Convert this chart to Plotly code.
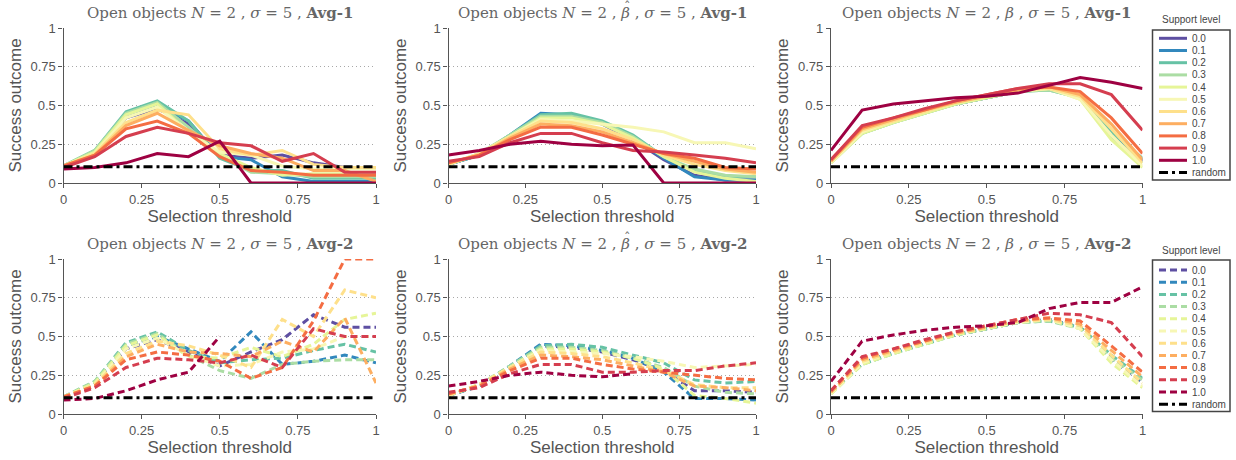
import plotly.graph_objects as go

# ---------------- data ----------------
x_vals = [0.0, 0.1, 0.2, 0.3, 0.4, 0.5, 0.6, 0.7, 0.8, 0.9, 1.0]
levels = ["0.0", "0.1", "0.2", "0.3", "0.4", "0.5", "0.6", "0.7", "0.8", "0.9", "1.0"]
random_level = 0.105
x_ticks = [0, 0.25, 0.5, 0.75, 1]
x_ticktext = ["0", "0.25", "0.5", "0.75", "1"]
y_ticks = [0, 0.25, 0.5, 0.75, 1]
y_ticktext = ["0", "0.25", "0.5", "0.75", "1"]

# Avg-1, plain
avg1_plain = [
    [0.11, 0.20, 0.42, 0.48, 0.38, 0.18, 0.16, 0.18, 0.13, 0.10, 0.10],
    [0.11, 0.20, 0.44, 0.50, 0.40, 0.17, 0.15, 0.04, 0.01, 0.01, 0.01],
    [0.11, 0.21, 0.46, 0.53, 0.40, 0.16, 0.08, 0.08, 0.03, 0.03, 0.03],
    [0.11, 0.21, 0.45, 0.52, 0.36, 0.18, 0.07, 0.06, 0.04, 0.04, 0.04],
    [0.11, 0.20, 0.44, 0.51, 0.33, 0.19, 0.10, 0.05, 0.06, 0.06, 0.06],
    [0.11, 0.19, 0.42, 0.49, 0.33, 0.20, 0.18, 0.11, 0.09, 0.09, 0.09],
    [0.11, 0.19, 0.39, 0.47, 0.44, 0.22, 0.18, 0.21, 0.12, 0.10, 0.10],
    [0.11, 0.18, 0.37, 0.45, 0.34, 0.24, 0.19, 0.16, 0.08, 0.08, 0.01],
    [0.11, 0.18, 0.35, 0.40, 0.32, 0.17, 0.08, 0.07, 0.05, 0.05, 0.05],
    [0.10, 0.17, 0.30, 0.36, 0.32, 0.26, 0.24, 0.14, 0.19, 0.07, 0.07],
    [0.09, 0.10, 0.13, 0.19, 0.17, 0.27, 0.00, 0.00, 0.00, 0.00, 0.00],
]
# Avg-1, beta-hat
avg1_hat = [
    [0.12, 0.18, 0.30, 0.44, 0.43, 0.38, 0.28, 0.15, 0.05, 0.02, 0.02],
    [0.12, 0.18, 0.31, 0.45, 0.44, 0.39, 0.29, 0.16, 0.04, 0.02, 0.02],
    [0.12, 0.18, 0.31, 0.44, 0.45, 0.40, 0.31, 0.17, 0.08, 0.04, 0.04],
    [0.12, 0.19, 0.31, 0.43, 0.43, 0.39, 0.30, 0.17, 0.09, 0.05, 0.04],
    [0.12, 0.19, 0.30, 0.42, 0.42, 0.38, 0.29, 0.17, 0.07, 0.03, 0.01],
    [0.12, 0.19, 0.30, 0.41, 0.40, 0.38, 0.36, 0.33, 0.26, 0.26, 0.22],
    [0.12, 0.19, 0.30, 0.40, 0.39, 0.35, 0.28, 0.18, 0.12, 0.08, 0.06],
    [0.13, 0.18, 0.29, 0.38, 0.37, 0.33, 0.26, 0.19, 0.14, 0.09, 0.07],
    [0.13, 0.18, 0.28, 0.36, 0.36, 0.31, 0.25, 0.19, 0.16, 0.10, 0.09],
    [0.14, 0.17, 0.26, 0.32, 0.32, 0.26, 0.21, 0.20, 0.18, 0.16, 0.13],
    [0.18, 0.21, 0.25, 0.27, 0.25, 0.24, 0.245, 0.00, 0.00, 0.00, 0.00],
]
# Avg-1, beta
avg1_beta = [
    [0.14, 0.33, 0.40, 0.46, 0.51, 0.55, 0.59, 0.61, 0.56, 0.32, 0.14],
    [0.14, 0.33, 0.40, 0.46, 0.51, 0.55, 0.59, 0.61, 0.56, 0.31, 0.15],
    [0.14, 0.32, 0.39, 0.45, 0.51, 0.55, 0.59, 0.60, 0.55, 0.33, 0.16],
    [0.13, 0.32, 0.39, 0.45, 0.51, 0.55, 0.59, 0.60, 0.55, 0.30, 0.13],
    [0.13, 0.32, 0.39, 0.45, 0.51, 0.55, 0.59, 0.61, 0.54, 0.28, 0.10],
    [0.13, 0.33, 0.40, 0.46, 0.52, 0.56, 0.59, 0.61, 0.54, 0.31, 0.11],
    [0.14, 0.34, 0.40, 0.46, 0.52, 0.56, 0.60, 0.61, 0.56, 0.35, 0.13],
    [0.14, 0.35, 0.41, 0.47, 0.52, 0.56, 0.60, 0.62, 0.57, 0.38, 0.15],
    [0.15, 0.36, 0.42, 0.47, 0.53, 0.57, 0.61, 0.62, 0.59, 0.42, 0.19],
    [0.15, 0.37, 0.42, 0.48, 0.53, 0.57, 0.61, 0.64, 0.64, 0.57, 0.34],
    [0.21, 0.47, 0.51, 0.53, 0.55, 0.56, 0.58, 0.63, 0.68, 0.65, 0.61],
]
# Avg-2, plain
avg2_plain = [
    [0.11, 0.20, 0.42, 0.48, 0.40, 0.31, 0.40, 0.48, 0.64, 0.56, 0.56],
    [0.11, 0.20, 0.44, 0.50, 0.42, 0.34, 0.53, 0.32, 0.34, 0.38, 0.33],
    [0.11, 0.21, 0.46, 0.53, 0.41, 0.33, 0.35, 0.36, 0.41, 0.45, 0.40],
    [0.11, 0.21, 0.45, 0.52, 0.38, 0.28, 0.23, 0.32, 0.34, 0.35, 0.35],
    [0.11, 0.20, 0.44, 0.51, 0.37, 0.36, 0.43, 0.37, 0.45, 0.61, 0.65],
    [0.11, 0.19, 0.42, 0.49, 0.38, 0.31, 0.32, 0.40, 0.42, 0.50, 0.50],
    [0.11, 0.19, 0.39, 0.47, 0.44, 0.38, 0.30, 0.61, 0.50, 0.80, 0.75],
    [0.11, 0.18, 0.37, 0.45, 0.40, 0.39, 0.37, 0.47, 0.40, 0.62, 0.20],
    [0.11, 0.18, 0.35, 0.40, 0.38, 0.34, 0.23, 0.30, 0.60, 1.00, 1.00],
    [0.10, 0.17, 0.30, 0.36, 0.35, 0.33, 0.38, 0.30, 0.55, 0.50, 0.50],
    [0.09, 0.10, 0.15, 0.22, 0.27, 0.50, None, None, None, None, None],
]
# Avg-2, beta-hat
avg2_hat = [
    [0.12, 0.18, 0.30, 0.44, 0.43, 0.40, 0.35, 0.28, 0.15, 0.15, 0.14],
    [0.12, 0.18, 0.31, 0.45, 0.44, 0.41, 0.36, 0.27, 0.10, 0.10, 0.09],
    [0.12, 0.18, 0.31, 0.44, 0.45, 0.43, 0.38, 0.33, 0.22, 0.20, 0.21],
    [0.12, 0.19, 0.31, 0.43, 0.43, 0.41, 0.36, 0.30, 0.18, 0.14, 0.13],
    [0.12, 0.19, 0.30, 0.42, 0.42, 0.40, 0.36, 0.29, 0.12, 0.10, 0.07],
    [0.12, 0.19, 0.30, 0.41, 0.40, 0.39, 0.37, 0.34, 0.30, 0.31, 0.32],
    [0.12, 0.19, 0.30, 0.40, 0.39, 0.37, 0.33, 0.28, 0.19, 0.17, 0.17],
    [0.13, 0.18, 0.29, 0.38, 0.37, 0.35, 0.31, 0.27, 0.18, 0.17, 0.15],
    [0.13, 0.18, 0.28, 0.36, 0.36, 0.32, 0.29, 0.27, 0.25, 0.23, 0.22],
    [0.14, 0.17, 0.26, 0.32, 0.32, 0.27, 0.27, 0.28, 0.28, 0.31, 0.33],
    [0.18, 0.21, 0.25, 0.27, 0.25, 0.24, 0.26, None, None, None, None],
]
# Avg-2, beta
avg2_beta = [
    [0.14, 0.33, 0.40, 0.46, 0.51, 0.55, 0.59, 0.61, 0.56, 0.36, 0.20],
    [0.14, 0.33, 0.40, 0.46, 0.51, 0.55, 0.59, 0.61, 0.56, 0.35, 0.21],
    [0.14, 0.32, 0.39, 0.45, 0.51, 0.55, 0.59, 0.60, 0.56, 0.38, 0.23],
    [0.13, 0.32, 0.39, 0.45, 0.51, 0.55, 0.59, 0.60, 0.55, 0.36, 0.22],
    [0.13, 0.32, 0.39, 0.45, 0.51, 0.55, 0.59, 0.61, 0.55, 0.33, 0.17],
    [0.13, 0.33, 0.40, 0.46, 0.52, 0.56, 0.59, 0.61, 0.55, 0.35, 0.18],
    [0.14, 0.34, 0.40, 0.46, 0.52, 0.56, 0.60, 0.61, 0.57, 0.38, 0.20],
    [0.14, 0.35, 0.41, 0.47, 0.52, 0.56, 0.60, 0.62, 0.58, 0.41, 0.24],
    [0.15, 0.36, 0.42, 0.47, 0.53, 0.57, 0.61, 0.62, 0.60, 0.44, 0.27],
    [0.15, 0.37, 0.42, 0.48, 0.53, 0.57, 0.61, 0.65, 0.64, 0.59, 0.37],
    [0.21, 0.47, 0.51, 0.54, 0.56, 0.57, 0.59, 0.68, 0.72, 0.72, 0.82],
]

titles = [
    "Open objects <i>N</i> = 2 , <i>\u03c3</i> = 5 , <b>Avg-1</b>",
    "Open objects <i>N</i> = 2 , <i>\u03b2</i> , <i>\u03c3</i> = 5 , <b>Avg-1</b>",
    "Open objects <i>N</i> = 2 , <i>\u03b2</i> , <i>\u03c3</i> = 5 , <b>Avg-1</b>",
    "Open objects <i>N</i> = 2 , <i>\u03c3</i> = 5 , <b>Avg-2</b>",
    "Open objects <i>N</i> = 2 , <i>\u03b2</i> , <i>\u03c3</i> = 5 , <b>Avg-2</b>",
    "Open objects <i>N</i> = 2 , <i>\u03b2</i> , <i>\u03c3</i> = 5 , <b>Avg-2</b>",
]
has_hat = [False, True, False, False, True, False]
legend_title = "Support level"
random_label = "random"

# ---------------- styling ----------------
W, H = 1236, 460
colors = ["#5e4fa2", "#3288bd", "#66c2a5", "#abdda4", "#e6f598", "#f7f7b5",
          "#fee08b", "#fdae61", "#f46d43", "#d53e4f", "#9e0142"]
col_px = [(63.5, 376.0), (448.5, 756.0), (831.0, 1142.5)]
row_px = [(28.0, 183.0), (259.0, 414.0)]
DASH = "7px,4px"
DASHDOT = "9px,4px,3px,4px"
TXT = "#555555"
SANS = "Liberation Sans, Arial, sans-serif"
SERIF = "DejaVu Serif, serif"
HAT_DX = 25.0   # offset (px) of the beta glyph from the title centre


def px_x(v):
    return v / W


def px_y(v):
    return 1 - v / H


panels = [avg1_plain, avg1_hat, avg1_beta, avg2_plain, avg2_hat, avg2_beta]

fig = go.Figure()
layout_axes = {}
annotations = []
shapes = []

for p, series in enumerate(panels):
    r, c = divmod(p, 3)
    idx = p + 1
    xa = "x" if idx == 1 else f"x{idx}"
    ya = "y" if idx == 1 else f"y{idx}"
    dash = "solid" if r == 0 else DASH
    for lvl, col, ys in zip(levels, colors, series):
        fig.add_trace(go.Scatter(
            x=x_vals, y=ys, mode="lines", name=lvl, showlegend=False,
            line=dict(color=col, width=3, dash=dash),
            connectgaps=False, xaxis=xa, yaxis=ya))
    fig.add_trace(go.Scatter(
        x=[x_vals[0], x_vals[-1]], y=[random_level, random_level], mode="lines",
        name=random_label, showlegend=False,
        line=dict(color="black", width=3.2, dash=DASHDOT), xaxis=xa, yaxis=ya))

    x0, x1 = col_px[c]
    yt, yb = row_px[r]
    common = dict(showline=True, linecolor=TXT, linewidth=1.3, ticks="outside",
                  ticklen=4, tickwidth=1.2, tickcolor=TXT, zeroline=False,
                  automargin=False,
                  tickfont=dict(family=SANS, size=13, color=TXT))
    layout_axes["xaxis" if idx == 1 else f"xaxis{idx}"] = dict(
        domain=[px_x(x0), px_x(x1)], range=[0, 1], anchor=ya,
        tickvals=x_ticks, ticktext=x_ticktext, showgrid=False,
        title=dict(text="Selection threshold", standoff=2,
                   font=dict(family=SANS, size=17, color=TXT)),
        **common)
    layout_axes["yaxis" if idx == 1 else f"yaxis{idx}"] = dict(
        domain=[px_y(yb), px_y(yt)], range=[0, 1], anchor=xa,
        tickvals=y_ticks, ticktext=y_ticktext, showgrid=True,
        gridcolor="#a8a8a8", griddash="1px,3px", gridwidth=1,
        title=dict(text="Success outcome", standoff=4,
                   font=dict(family=SANS, size=17, color=TXT)),
        **common)
    cx = (x0 + x1) / 2
    annotations.append(dict(
        text=titles[p], x=px_x(cx), y=px_y(yt - 15),
        xref="paper", yref="paper", xanchor="center", yanchor="middle",
        showarrow=False, font=dict(family=SERIF, size=15, color="#666666")))
    if has_hat[p]:
        annotations.append(dict(
            text="\u02c6", x=px_x(cx + HAT_DX), y=px_y(yt - 22),
            xref="paper", yref="paper", xanchor="center", yanchor="middle",
            showarrow=False, font=dict(family=SERIF, size=13, color="#666666")))

# ---------------- manual legends ----------------
legend_boxes = [(30.0, 180.0, 38.3, 20.0), (260.0, 411.5, 270.0, 250.7)]
for r, (bt, bb, first, ttl_y) in enumerate(legend_boxes):
    shapes.append(dict(type="rect", xref="paper", yref="paper",
                       x0=px_x(1152.5), x1=px_x(1230.0), y0=px_y(bb), y1=px_y(bt),
                       line=dict(color="#444444", width=1.5), fillcolor="white"))
    annotations.append(dict(text=legend_title, x=px_x(1191), y=px_y(ttl_y),
                            xref="paper", yref="paper", xanchor="center",
                            yanchor="middle", showarrow=False,
                            font=dict(family=SANS, size=10, color="#444444")))
    entries = list(zip(levels, colors)) + [(random_label, "black")]
    for i, (lab, col) in enumerate(entries):
        yy = first + i * 12.2
        if lab == random_label:
            d = DASHDOT
        else:
            d = "solid" if r == 0 else DASH
        shapes.append(dict(type="line", xref="paper", yref="paper",
                           x0=px_x(1159), x1=px_x(1187), y0=px_y(yy), y1=px_y(yy),
                           line=dict(color=col, width=3, dash=d)))
        annotations.append(dict(text=lab, x=px_x(1189.5), y=px_y(yy),
                                xref="paper", yref="paper", xanchor="left",
                                yanchor="middle", showarrow=False,
                                font=dict(family=SANS, size=10, color="#444444")))

fig.update_layout(
    width=W, height=H,
    margin=dict(l=0, r=0, t=0, b=0, pad=0, autoexpand=False),
    paper_bgcolor="white", plot_bgcolor="white", showlegend=False,
    annotations=annotations, shapes=shapes, **layout_axes)

fig.write_html("out.html")
